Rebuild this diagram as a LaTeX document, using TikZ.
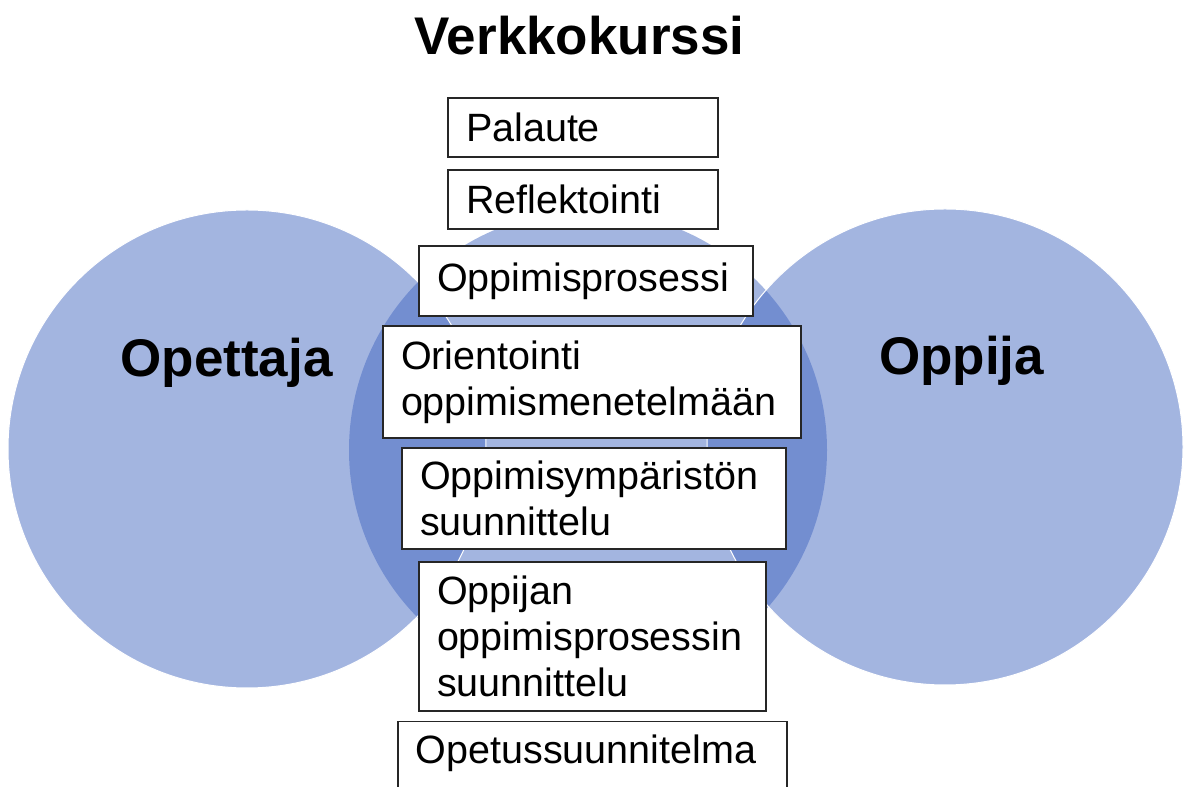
\documentclass[tikz,border=0pt]{standalone}
\usepackage{fontspec}
\setmainfont{Liberation Sans}
\usetikzlibrary{positioning}
\definecolor{Venn}{HTML}{3F64BF}
\definecolor{Frame}{HTML}{262626}

\tikzset{
  venn/.style={fill=Venn, fill opacity=0.48},
  vennedge/.style={draw=white, line width=1pt},
  stagebox/.style={draw=Frame, line width=1.5pt, fill=white, align=left,
    inner xsep=18pt, inner ysep=0pt, font=\fontsize{39.5}{46}\selectfont},
  biglabel/.style={anchor=base, font=\fontsize{53}{60}\selectfont\bfseries}
}

\begin{document}
\begin{tikzpicture}[x=1pt,y=1pt]
    \useasboundingbox (0,0) rectangle (1187,787);
    % three overlapping circles
    \fill[venn] (588,337) circle (239pt);
    \fill[venn] (247,338) circle (239pt);
    \fill[venn] (945,340) circle (238pt);
    \draw[vennedge] (247,338) circle (239pt);
    \draw[vennedge] (945,340) circle (238pt);
    \node[biglabel] (kurssi) at (579.5,732) {Verkkokurssi};
    \node[biglabel] (opettaja) at (226.5,410) {Opettaja};
    \node[biglabel] (oppija) at (961.5,412) {Oppija};
    % stacked boxes
    \node[stagebox, minimum width=270pt, minimum height=59pt, text width=234pt] (palaute) at (583,659.5) {Palaute};
    \node[stagebox, minimum width=270pt, minimum height=59pt, text width=234pt] (reflektointi) at (583,587.5) {Reflektointi};
    \node[stagebox, minimum width=334pt, minimum height=70pt, text width=298pt] (prosessi) at (586,506) {Oppimisprosessi};
    \node[stagebox, minimum width=418pt, minimum height=112pt, text width=382pt] (orientointi) at (592,405) {Orientointi\\oppimismenetelmään};
    \node[stagebox, minimum width=384pt, minimum height=101pt, text width=348pt] (ymparisto) at (594,288.5) {Oppimisympäristön\\suunnittelu};
    \node[stagebox, minimum width=347pt, minimum height=149pt, text width=311pt] (oppijan) at (592.5,150.5) {Oppijan\\oppimisprosessin\\suunnittelu};
    \node[stagebox, anchor=north west, minimum width=389pt, text width=353pt, inner ysep=13pt, text depth=60pt] (opetus) at (397,66) {Opetussuunnitelma};
\end{tikzpicture}
\end{document}
